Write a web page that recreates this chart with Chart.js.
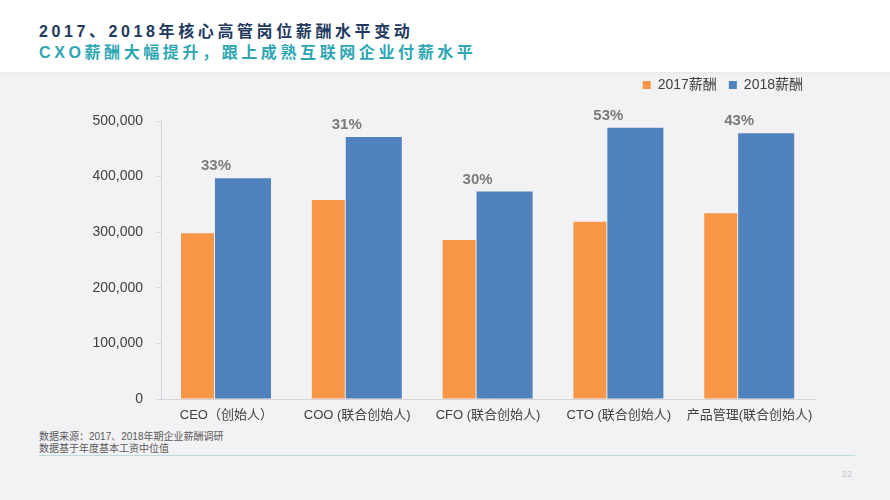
<!DOCTYPE html>
<html>
<head>
<meta charset="utf-8">
<script src="https://cdn.jsdelivr.net/npm/chart.js@4/dist/chart.umd.min.js"></script>
<style>
  html, body { margin: 0; padding: 0; }
  body { width: 890px; height: 500px; background: #f2f2f4; position: relative; overflow: hidden;
         font-family: "Liberation Sans", "Noto Sans CJK SC", sans-serif; }
  #header { position: absolute; left: 0; top: 0; width: 890px; height: 72px; background: #ffffff;
            box-shadow: 0 2px 4px rgba(0,0,0,0.04); }
  .t { position: absolute; left: 39px; white-space: nowrap; font-weight: bold; font-size: 16px;
       letter-spacing: 3.6px; line-height: 20px; }
  #t1 { top: 22px; color: #1f3a5f; }
  #t2 { top: 43px; color: #2ea6b3; }
  .fn { position: absolute; left: 39px; font-size: 10px; line-height: 12px; color: #595959; white-space: nowrap; }
  #f1 { top: 431px; }
  #f2 { top: 443px; }
  #rule { position: absolute; left: 39px; top: 455px; width: 816px; height: 1px; background: #bcd9dd; }
  #pg { position: absolute; left: 842px; top: 469px; font-size: 9px; color: #c4c4c8; }
  #wrap { position: absolute; left: 0; top: 0; width: 890px; height: 500px; }
</style>
</head>
<body>
<div id="header"></div>
<div class="t" id="t1">2017、2018年核心高管岗位薪酬水平变动</div>
<div class="t" id="t2">CXO薪酬大幅提升，跟上成熟互联网企业付薪水平</div>
<div class="fn" id="f1">数据来源：2017、2018年期企业薪酬调研</div>
<div class="fn" id="f2">数据基于年度基本工资中位值</div>
<div id="rule"></div>
<div id="pg">22</div>
<div id="wrap"><canvas id="c" width="890" height="500"></canvas></div>
<script>
const categories = ["CEO（创始人）", "COO (联合创始人)", "CFO (联合创始人)", "CTO (联合创始人)", "产品管理(联合创始人)"];
const seriesNames = ["2017薪酬", "2018薪酬"];
const salary2017 = [298000, 358000, 286000, 319000, 334000];
const salary2018 = [397000, 471000, 373000, 488000, 478000];
const growthLabels = ["33%", "31%", "30%", "53%", "43%"];
const yTicks = [0, 100000, 200000, 300000, 400000, 500000];

const FONT = '"Liberation Sans", "Noto Sans CJK SC", sans-serif';

const growthPlugin = {
  id: 'growth',
  afterDatasetsDraw(chart) {
    const meta = chart.getDatasetMeta(1);
    const ctx = chart.ctx;
    ctx.save();
    ctx.font = 'bold 15px ' + FONT;
    ctx.fillStyle = '#7a7a7a';
    ctx.textAlign = 'center';
    ctx.textBaseline = 'middle';
    meta.data.forEach((el, i) => {
      ctx.fillText(growthLabels[i], el.x - 27, el.y - 12);
    });
    ctx.restore();
  }
};

const legendGap = {
  id: 'legendGap',
  afterInit(chart) {
    const lg = chart.legend;
    if (!lg) return;
    const origFit = lg.fit;
    lg.fit = function () { origFit.call(this); this.height += 19; };
  }
};

new Chart(document.getElementById('c'), {
  type: 'bar',
  data: {
    labels: categories,
    datasets: [
      { label: seriesNames[0], data: salary2017, backgroundColor: '#F79646',
        categoryPercentage: 0.883, barPercentage: 0.571 },
      { label: seriesNames[1], data: salary2018, backgroundColor: '#4F81BD',
        categoryPercentage: 0.507, barPercentage: 1.69 }
    ]
  },
  options: {
    responsive: false,
    animation: false,
    devicePixelRatio: 1,
    layout: { padding: { left: 0, right: 75, top: 66, bottom: 0 } },
    plugins: {
      legend: {
        display: true,
        position: 'top',
        align: 'end',
        labels: { boxWidth: 8, boxHeight: 8, color: '#404040', padding: 12,
                  font: { size: 14, family: FONT } }
      },
      tooltip: { enabled: false }
    },
    scales: {
      x: {
        grid: { display: false, drawTicks: false },
        border: { display: true, color: '#d4d4d8', width: 1 },
        ticks: { color: '#404040', padding: 9, font: { size: 13, family: FONT }, maxRotation: 0 },
        afterFit(s) { s.height = 101; }
      },
      y: {
        min: 0, max: 500000,
        afterBuildTicks(s) { s.ticks = yTicks.map(v => ({ value: v })); },
        grid: { drawOnChartArea: false, drawTicks: true, tickLength: 4, color: '#d4d4d8' },
        border: { display: true, color: '#d4d4d8', width: 1 },
        ticks: { color: '#404040', padding: 14, font: { size: 14, family: FONT },
                 callback: v => v.toLocaleString('en-US') },
        afterFit(s) { s.width = 161; }
      }
    }
  },
  plugins: [growthPlugin, legendGap]
});
</script>
</body>
</html>
